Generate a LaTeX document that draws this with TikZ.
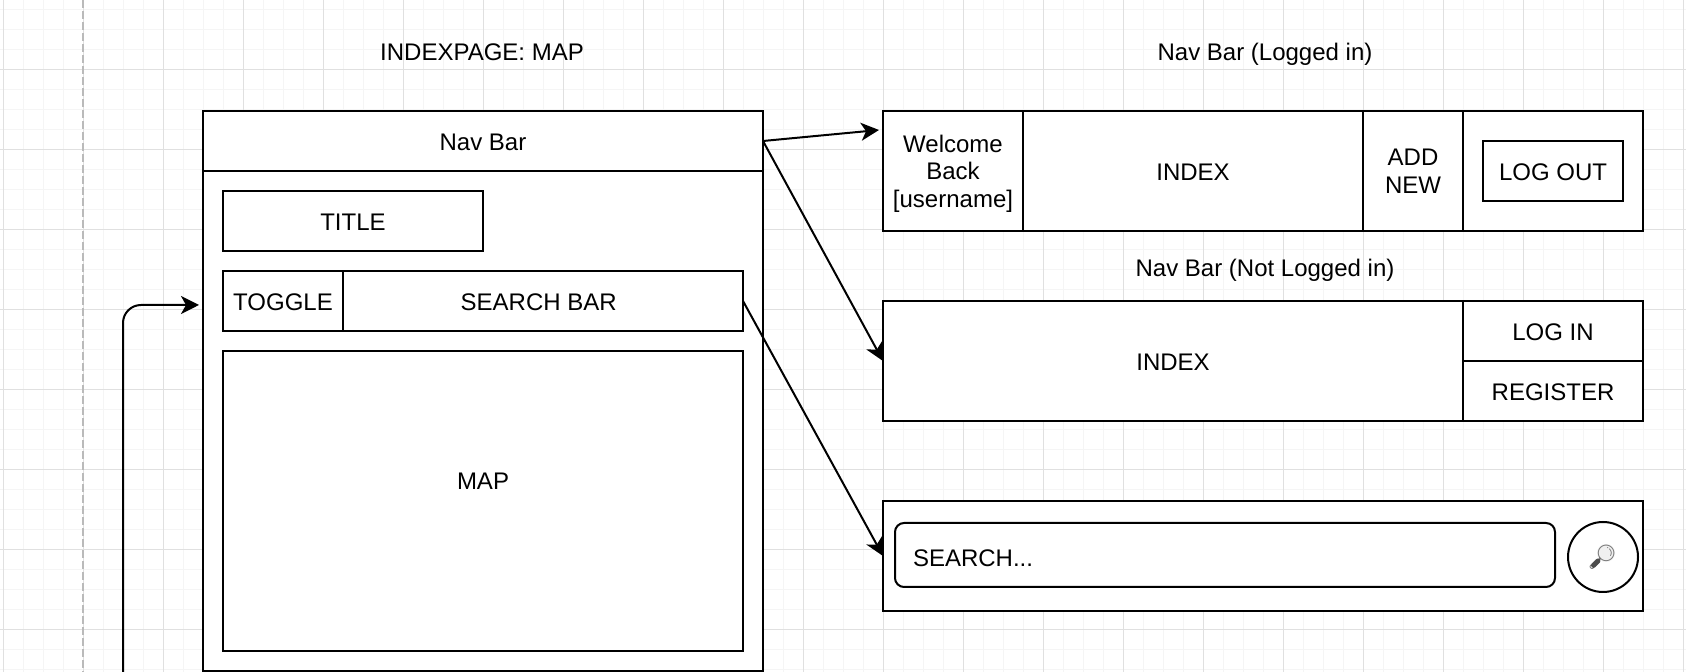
\documentclass[tikz,border=0pt]{standalone}
\usepackage{fontspec}
\setmainfont{Liberation Sans}
\newfontfamily\emojifont{Noto Emoji}
\usetikzlibrary{arrows.meta}
\tikzset{
  x=0.5pt,y=-0.5pt,
  uibox/.style={draw=black,fill=white,line width=1pt,inner sep=0pt,outer sep=0pt,anchor=north west,align=center,font=\fontsize{12}{13.8}\selectfont,text=black},
  oneline/.style={uibox,text height=9.4pt,text depth=0pt},
  caption/.style={inner sep=0pt,outer sep=0pt,font=\fontsize{12}{14}\selectfont,text=black},
  link/.style={draw=black,line width=1pt,-{Stealth[length=9pt,width=9pt,inset=2.5pt]}},
  gridminor/.style={draw=black!4,line width=0.5pt},
  gridmajor/.style={draw=black!12,line width=0.5pt},
}
\begin{document}
\begin{tikzpicture}
\useasboundingbox (0,0) rectangle (1686,672);
\fill[white] (0,0) rectangle (1686,672);
% grid
\foreach \i in {0,...,84}{\draw[gridminor] ({3+20*\i},0) -- ({3+20*\i},672);}
\foreach \i in {0,...,33}{\draw[gridminor] (0,{10+20*\i}) -- (1686,{10+20*\i});}
\foreach \i in {0,...,21}{\draw[gridmajor] ({3+80*\i},0) -- ({3+80*\i},672);}
\foreach \i in {0,...,8}{\draw[gridmajor] (0,{70+80*\i}) -- (1686,{70+80*\i});}
\draw[draw=black!27,line width=0.75pt,dash pattern=on 4pt off 1.5pt] (83,0) -- (83,672);
% captions
\node[caption] (capmap) at (482,52) {INDEXPAGE: MAP};
\node[caption] (capin) at (1265,54) {Nav Bar (Logged in)};
\node[caption] (capout) at (1265,270) {Nav Bar (Not Logged in)};
% left page
\node[uibox,minimum width=280pt,minimum height=280pt] (page) at (203,111) {};
\node[oneline,minimum width=280pt,minimum height=30pt] (navbar) at (203,111) {Nav Bar};
\node[oneline,minimum width=130pt,minimum height=30pt] (title) at (223,191) {TITLE};
\node[oneline,minimum width=60pt,minimum height=30pt] (toggle) at (223,271) {TOGGLE};
\node[oneline,minimum width=200pt,minimum height=30pt] (searchbar) at (343,271) {SEARCH BAR\rule{4.3pt}{0pt}};
\node[oneline,text depth=20.9pt,minimum width=260pt,minimum height=150pt] (map) at (223,351) {MAP};
% nav logged in
\node[uibox,minimum width=70pt,minimum height=60pt] (welcome) at (883,111) {\rule{0pt}{11.45pt}Welcome\\Back\\{[}username{]}};
\node[oneline,minimum width=170pt,minimum height=60pt] (indexa) at (1023,111) {INDEX};
\node[uibox,minimum width=50pt,minimum height=60pt] (addnew) at (1363,111) {ADD\\NEW};
\node[uibox,minimum width=90pt,minimum height=60pt] (logcell) at (1463,111) {};
\node[oneline,minimum width=70pt,minimum height=30pt] (logout) at (1483,141) {LOG OUT};
% nav not logged in
\node[oneline,minimum width=290pt,minimum height=60pt] (indexb) at (883,301) {INDEX};
\node[oneline,minimum width=90pt,minimum height=30pt] (login) at (1463,301) {LOG IN};
\node[oneline,minimum width=90pt,minimum height=30pt] (register) at (1463,361) {REGISTER};
% search panel
\node[uibox,minimum width=380pt,minimum height=55pt] (searchpanel) at (883,501) {};
\node[oneline,text height=11.5pt,rounded corners=4.5pt,minimum width=330pt,minimum height=32pt,text width=312pt,align=left] (searchfield) at (895,523) {SEARCH...};
\node[draw=black,fill=white,line width=1pt,circle,minimum size=35pt,inner sep=0pt,outer sep=0pt] (searchbtn) at (1603,557) {};
\fill[black!6] (1606,553) circle (4.5pt);
\node[inner sep=0pt,outer sep=0pt,text=black!55,font=\emojifont\fontsize{12}{14}\selectfont] (lens) at (1602,557) {🔎};
\draw[black!70,line width=2.4pt,line cap=round] (1593.5,565.5) -- (1598,561);
% connectors
\coordinate (welcometip) at (879,130);
\coordinate (navout) at (763,141);
\coordinate (togglefoot) at (123,672);
\coordinate (toggletip) at (199,305);
\draw[link] (navout) -- (welcometip);
\draw[link] (navout) -- (indexb.west);
\draw[link] (searchbar.east) -- (searchpanel.west);
\draw[link,rounded corners=9pt] (togglefoot) |- (toggletip);
\end{tikzpicture}
\end{document}
